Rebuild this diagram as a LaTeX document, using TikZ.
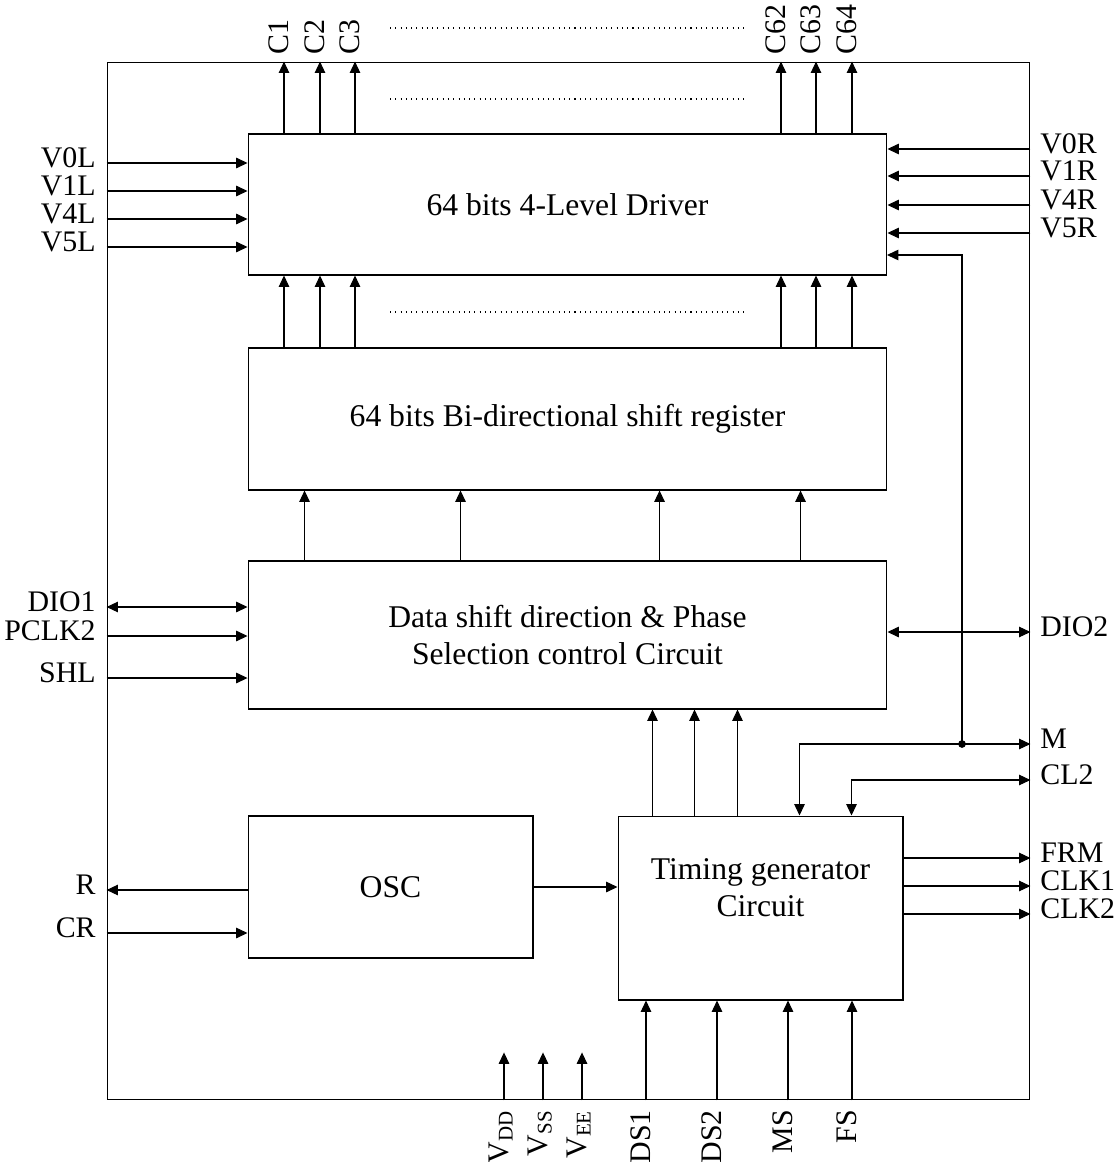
\documentclass[tikz,border=0pt]{standalone}
\usepackage{fontspec}
\setmainfont{Liberation Serif}
\usetikzlibrary{arrows.meta,positioning,calc}

\tikzset{
    sig/.style={line width=0.6pt, -{Triangle[length=6.5pt,width=6pt]}},
    bisig/.style={line width=0.6pt, {Triangle[length=6.5pt,width=6pt]}-{Triangle[length=6.5pt,width=6pt]}},
    blockbox/.style={draw, line width=0.6pt, inner sep=0pt, align=center, font=\fontsize{18}{21}\selectfont},
    boxtext/.style={inner sep=0pt, align=center, font=\fontsize{18}{21}\selectfont},
    pinl/.style={inner sep=0pt, anchor=mid east, font=\fontsize{17}{19}\selectfont},
    pinr/.style={inner sep=0pt, anchor=mid west, font=\fontsize{17}{19}\selectfont},
    pint/.style={inner sep=0pt, rotate=90, anchor=mid west, font=\fontsize{17}{19}\selectfont},
    pinb/.style={inner sep=0pt, rotate=90, anchor=mid east, font=\fontsize{17}{19}\selectfont},
    dots/.style={line width=0.6pt, dash pattern=on 0.6pt off 2.4pt}
}

\begin{document}
\begin{tikzpicture}[x=0.02cm, y=-0.02cm]
    \useasboundingbox (0,0) rectangle (1115,1162);

    % chip outline
    \node[blockbox, minimum width=18.46cm, minimum height=20.76cm] (chip) at (568.5,581) {};

    % blocks
    \node[blockbox, minimum width=12.78cm, minimum height=2.82cm] (drv) at (567.5,204.5) {64 bits 4-Level Driver};
    \node[blockbox, minimum width=12.78cm, minimum height=2.84cm] (reg) at (567.5,419) {64 bits Bi-directional shift register};
    \node[blockbox, minimum width=12.78cm, minimum height=2.96cm] (dsc) at (567.5,635) {Data shift direction \& Phase\\Selection control Circuit};
    \node[blockbox, minimum width=5.70cm, minimum height=2.84cm] (osc) at (390.5,887) {OSC};
    \node[blockbox, minimum width=5.70cm, minimum height=3.68cm] (tim) at (760.5,908) {};
    \node[boxtext] (timtxt) at (760.5,888) {Timing generator\\Circuit};

    % segment outputs
    \foreach \n/\x in {C1/284, C2/320, C3/355, C62/781, C63/816, C64/852} {
        \node[pint] (\n) at (\x,55) {\n};
        \draw[sig] (\n.mid west |- drv.north) -- (\n.mid west |- chip.north);
        \draw[sig] (\n.mid west |- reg.north) -- (\n.mid west |- drv.south);
    }
    \draw[dots] (390,28) -- (747,28);
    \draw[dots] (390,99) -- (747,99);
    \draw[dots] (390,312) -- (747,312);

    % level inputs
    \foreach \n/\y in {V0L/163, V1L/191, V4L/219, V5L/247} {
        \node[pinl] (\n) at (96,\y) {\n};
        \draw[sig] (\n.mid east -| chip.west) -- (\n.mid east -| drv.west);
    }
    \foreach \n/\y in {V0R/149, V1R/176, V4R/205, V5R/233} {
        \node[pinr] (\n) at (1040,\y) {\n};
        \draw[sig] (\n.mid west -| chip.east) -- (\n.mid west -| drv.east);
    }

    % shift register feed
    \foreach \dx in {57,213,412,553}
        \draw[sig] ($(dsc.north west)+(\dx,0)$) coordinate (f) -- (f |- reg.south);

    % direction control pins
    \node[pinl] (DIO1) at (96,607) {DIO1};
    \node[pinl] (PCLK2) at (96,636) {PCLK2};
    \node[pinl] (SHL) at (96,678) {SHL};
    \node[pinr] (DIO2) at (1040,632) {DIO2};
    \draw[bisig] (DIO1.mid east -| chip.west) -- (DIO1.mid east -| dsc.west);
    \draw[sig] (PCLK2.mid east -| chip.west) -- (PCLK2.mid east -| dsc.west);
    \draw[sig] (SHL.mid east -| chip.west) -- (SHL.mid east -| dsc.west);
    \draw[bisig] (DIO2.mid west -| dsc.east) -- (DIO2.mid west -| chip.east);

    % timing to control
    \foreach \dx in {35,77,120}
        \draw[sig] ($(tim.north west)+(\dx,0)$) coordinate (t) -- (t |- dsc.south);

    % M and CL2
    \node[pinr] (M) at (1040,744) {M};
    \node[pinr] (CL2) at (1040,780) {CL2};
    \coordinate (jM) at (962,744);
    \coordinate (mdrv) at (887,255);
    \draw[bisig] ($(tim.north west)+(182,0)$) |- (M.mid west -| chip.east);
    \draw[bisig] ($(tim.north west)+(234,0)$) |- (CL2.mid west -| chip.east);
    \draw[sig] (jM) |- (mdrv);
    \fill (jM) circle[radius=2.2pt];

    % timing outputs
    \foreach \n/\y in {FRM/858, CLK1/886, CLK2/914} {
        \node[pinr] (\n) at (1040,\y) {\n};
        \draw[sig] (\n.mid west -| tim.east) -- (\n.mid west -| chip.east);
    }

    % oscillator
    \node[pinl] (R) at (96,890) {R};
    \node[pinl] (CR) at (96,933) {CR};
    \draw[sig] (R.mid east -| osc.west) -- (R.mid east -| chip.west);
    \draw[sig] (CR.mid east -| chip.west) -- (CR.mid east -| osc.west);
    \draw[sig] (osc.east) -- (osc.east -| tim.west);

    % power pins
    \foreach \n/\s/\x in {VDD/DD/504, VSS/SS/543, VEE/EE/582} {
        \node[pinb] (\n) at (\x,1110) {V\textsubscript{\s}};
        \draw[sig] (\n.mid east |- chip.south) -- ++(0,-48);
    }

    % mode pins
    \foreach \n/\x in {DS1/646, DS2/717, MS/788, FS/852} {
        \node[pinb] (\n) at (\x,1110) {\n};
        \draw[sig] (\n.mid east |- chip.south) -- (\n.mid east |- tim.south);
    }
\end{tikzpicture}
\end{document}
